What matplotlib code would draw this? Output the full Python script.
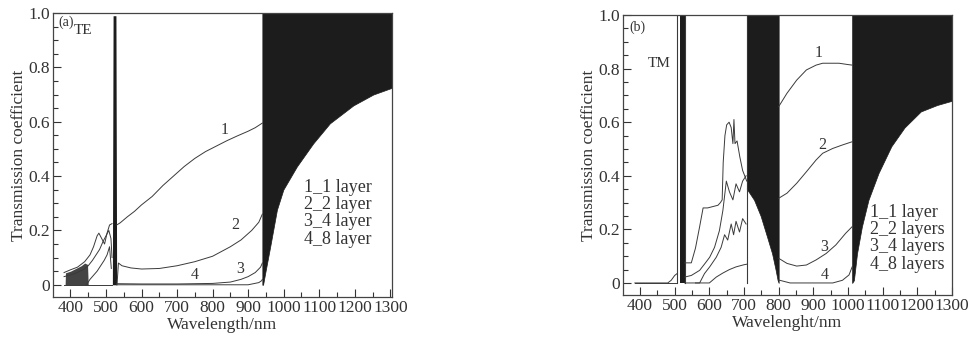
"""Transmission spectra of the TE and TM multilayer structures (panels a, b)."""
import matplotlib.pyplot as plt
from matplotlib.ticker import MultipleLocator, FuncFormatter

# ---------------- panel (a): TE ----------------
# below the narrow resonance
te1_short_x = [382, 400, 420, 440, 455, 465, 475, 480, 488, 496, 503, 510, 517]
te1_short_y = [0.045, 0.055, 0.065, 0.085, 0.11, 0.14, 0.18, 0.19, 0.17, 0.15, 0.19, 0.22, 0.225]
te2_short_x = [382, 410, 435, 450, 462, 472, 482, 492, 500, 508, 514, 517]
te2_short_y = [0.03, 0.04, 0.055, 0.07, 0.09, 0.11, 0.13, 0.16, 0.18, 0.2, 0.17, 0.1]
te3_short_x = [445, 455, 465, 475, 485, 495, 503, 510, 515]
te3_short_y = [0.0, 0.02, 0.035, 0.05, 0.07, 0.09, 0.11, 0.14, 0.06]
te4_short_x = [382, 450, 517]
te4_short_y = [0.0, 0.0, 0.0]
te_blob_x = [385, 386, 400, 415, 430, 440, 448, 450]
te_blob_top = [0.0, 0.044, 0.05, 0.06, 0.07, 0.08, 0.075, 0.0]

# narrow resonance
te_spike_x = [518, 520, 528, 530]
te_spike_top = [0.0, 0.99, 0.99, 0.0]

# between the resonance and the band edge
te1_mid_x = [530, 540, 560, 580, 600, 630, 660, 690, 720, 750, 780, 810, 840, 870, 900, 920, 940]
te1_mid_y = [0.22, 0.228, 0.25, 0.27, 0.294, 0.325, 0.365, 0.40, 0.435, 0.465, 0.49, 0.51, 0.53, 0.548, 0.565, 0.578, 0.595]
te2_mid_x = [531, 535, 545, 570, 600, 650, 700, 750, 800, 850, 880, 910, 930, 940]
te2_mid_y = [0.0, 0.08, 0.07, 0.062, 0.058, 0.06, 0.07, 0.085, 0.105, 0.14, 0.165, 0.2, 0.23, 0.26]
te3_mid_x = [531, 600, 700, 800, 850, 880, 900, 920, 935, 940]
te3_mid_y = [0.004, 0.003, 0.003, 0.005, 0.01, 0.02, 0.03, 0.045, 0.065, 0.08]
te4_mid_x = [531, 700, 900, 930, 938, 940]
te4_mid_y = [0.0, 0.0, 0.0, 0.008, 0.015, 0.02]

# dense oscillation region (lower envelope)
te_band_x = [940, 942, 948, 962, 981, 999, 1037, 1083, 1130, 1196, 1252, 1305]
te_band_low = [0.0, 0.0, 0.043, 0.14, 0.276, 0.35, 0.435, 0.52, 0.594, 0.66, 0.70, 0.725]

# ---------------- panel (b): TM ----------------
tm_low_x = [385, 480, 490, 500, 507]
tm_low_y = [0.0, 0.0, 0.01, 0.028, 0.035]
tm_zero_x = [385, 507]
tm_zero_y = [0.0, 0.0]
tm_spike_x = [516, 529]
tm_spike_top = [1.0, 1.0]

tm1_mid_x = [529, 548, 560, 572, 582, 595, 610, 625, 632, 637, 640, 645, 650, 657, 663, 668, 671, 674, 680, 688, 696, 708]
tm1_mid_y = [0.075, 0.075, 0.13, 0.21, 0.28, 0.28, 0.285, 0.29, 0.30, 0.31, 0.45, 0.55, 0.59, 0.60, 0.58, 0.52, 0.61, 0.52, 0.53, 0.47, 0.42, 0.38]
tm2_mid_x = [529, 548, 572, 587, 601, 615, 629, 639, 649, 658, 668, 677, 687, 696, 706]
tm2_mid_y = [0.022, 0.028, 0.047, 0.072, 0.096, 0.133, 0.195, 0.27, 0.38, 0.34, 0.31, 0.37, 0.34, 0.38, 0.40]
tm3_mid_x = [560, 572, 586, 601, 620, 634, 644, 653, 663, 670, 677, 687, 696, 706]
tm3_mid_y = [0.0, 0.0, 0.035, 0.06, 0.096, 0.133, 0.18, 0.16, 0.22, 0.18, 0.23, 0.19, 0.24, 0.22]
tm4_mid_x = [529, 600, 620, 639, 658, 677, 700, 708]
tm4_mid_y = [0.0, 0.0, 0.022, 0.037, 0.05, 0.06, 0.068, 0.07]

tm_band1_x = [708, 710, 729, 748, 767, 781, 791, 797, 800]
tm_band1_low = [0.35, 0.347, 0.31, 0.25, 0.17, 0.11, 0.05, 0.01, 0.0]

tm1_long_x = [800, 824, 852, 880, 908, 927, 950, 974, 1000, 1012]
tm1_long_y = [0.658, 0.708, 0.757, 0.795, 0.813, 0.82, 0.82, 0.82, 0.815, 0.813]
tm2_long_x = [800, 824, 852, 880, 908, 927, 956, 984, 1012]
tm2_long_y = [0.316, 0.335, 0.372, 0.415, 0.459, 0.484, 0.502, 0.515, 0.527]
tm3_long_x = [800, 824, 852, 880, 908, 937, 965, 993, 1012]
tm3_long_y = [0.092, 0.073, 0.063, 0.067, 0.086, 0.11, 0.142, 0.185, 0.21]
tm4_long_x = [800, 833, 956, 984, 1003, 1012]
tm4_long_y = [0.011, 0.0, 0.0, 0.01, 0.03, 0.06]

tm_band2_x = [1012, 1017, 1026, 1040, 1059, 1088, 1125, 1163, 1210, 1257, 1300]
tm_band2_low = [0.0, 0.01, 0.11, 0.21, 0.31, 0.41, 0.51, 0.58, 0.64, 0.664, 0.68]

te_legend = ["1_1 layer", "2_2 layer", "3_4 layer", "4_8 layer"]
tm_legend = ["1_1 layer", "2_2 layers", "3_4 layers", "4_8 layers"]

LINE = '#3a3a3a'
FILL = '#1c1c1c'
TEXT = '#333333'
plt.rcParams['font.family'] = ['Liberation Serif', 'DejaVu Serif']
plt.rcParams['font.size'] = 12


def style_axes(ax, xmax):
    """Box frame, inward ticks, serif labels."""
    ax.set_xlim(351, xmax)
    ax.set_ylim(-0.045, 1.0)
    ax.xaxis.set_major_locator(MultipleLocator(100))
    ax.xaxis.set_minor_locator(MultipleLocator(50))
    ax.yaxis.set_major_locator(MultipleLocator(0.2))
    ax.yaxis.set_minor_locator(MultipleLocator(0.05))
    ax.yaxis.set_major_formatter(FuncFormatter(lambda v, p: '0' if abs(v) < 1e-9 else f'{v:.1f}'))
    ax.tick_params(which='both', direction='in', colors=TEXT, labelsize=12.5, width=0.8)
    ax.tick_params(which='major', length=6, pad=2)
    ax.tick_params(which='minor', length=3.5)
    for s in ax.spines.values():
        s.set_color('#444444')
        s.set_linewidth(0.9)
    ax.set_ylabel('Transmission coefficient', color=TEXT, fontsize=12.5, labelpad=1)


def draw_curves(ax, pairs):
    for x, y in pairs:
        ax.plot(x, y, color=LINE, lw=0.7)


def main():
    fig = plt.figure(figsize=(9.75, 3.44), dpi=100)
    ax_a = fig.add_axes([0.0544, 0.1366, 0.3477, 0.8256])
    ax_b = fig.add_axes([0.639, 0.1424, 0.3374, 0.814])

    # panel (a)
    ax_a.fill_between(te_blob_x, 0, te_blob_top, color='#444444', lw=0)
    ax_a.fill_between(te_spike_x, 0, te_spike_top, color=FILL, lw=0)
    ax_a.fill_between(te_band_x, te_band_low, 1.0, color=FILL, lw=0.5, edgecolor=FILL)
    draw_curves(ax_a, [(te1_short_x, te1_short_y), (te2_short_x, te2_short_y),
                       (te3_short_x, te3_short_y), (te4_short_x, te4_short_y),
                       (te1_mid_x, te1_mid_y), (te2_mid_x, te2_mid_y),
                       (te3_mid_x, te3_mid_y), (te4_mid_x, te4_mid_y)])
    style_axes(ax_a, 1305)
    ax_a.set_xlabel('Wavelength/nm', color=TEXT, fontsize=12.5, labelpad=1)
    ax_a.text(365, 0.965, '(a)', fontsize=10, color=TEXT, va='center')
    ax_a.text(410, 0.935, 'TE', fontsize=11, color=TEXT, va='center')
    for lbl, x, y in [('1', 835, 0.57), ('2', 863, 0.22), ('3', 878, 0.058), ('4', 751, 0.037)]:
        ax_a.text(x, y, lbl, color=TEXT, fontsize=11.5, ha='center', va='center')
    ax_a.text(1058, 0.39, '\n'.join(te_legend), color=TEXT, fontsize=13,
              va='top', ha='left', linespacing=1.02)

    # panel (b)
    ax_b.fill_between(tm_spike_x, 0, tm_spike_top, color=FILL, lw=0)
    ax_b.plot([507, 507], [0, 1], color=LINE, lw=0.8)
    ax_b.plot([529, 529], [0, 1], color=LINE, lw=0.8)
    ax_b.fill_between(tm_band1_x, tm_band1_low, 1.0, color=FILL, lw=0.5, edgecolor=FILL)
    ax_b.plot([708, 708], [0, 0.35], color=LINE, lw=0.8)
    ax_b.fill_between(tm_band2_x, tm_band2_low, 1.0, color=FILL, lw=0.5, edgecolor=FILL)
    draw_curves(ax_b, [(tm_low_x, tm_low_y), (tm_zero_x, tm_zero_y),
                       (tm1_mid_x, tm1_mid_y), (tm2_mid_x, tm2_mid_y),
                       (tm3_mid_x, tm3_mid_y), (tm4_mid_x, tm4_mid_y),
                       (tm1_long_x, tm1_long_y), (tm2_long_x, tm2_long_y),
                       (tm3_long_x, tm3_long_y), (tm4_long_x, tm4_long_y)])
    style_axes(ax_b, 1300)
    ax_b.set_xlabel('Wavelenght/nm', color=TEXT, fontsize=12.5, labelpad=1)
    ax_b.text(370, 0.955, '(b)', fontsize=10, color=TEXT, va='center')
    ax_b.text(455, 0.82, 'TM', fontsize=11, color=TEXT, va='center', ha='center')
    for lbl, x, y in [('1', 916, 0.857), ('2', 927, 0.515), ('3', 932, 0.136), ('4', 932, 0.03)]:
        ax_b.text(x, y, lbl, color=TEXT, fontsize=11.5, ha='center', va='center')
    ax_b.text(1063, 0.295, '\n'.join(tm_legend), color=TEXT, fontsize=13,
              va='top', ha='left', linespacing=1.02)

    fig.savefig('out.png', dpi=100)


if __name__ == '__main__':
    main()
